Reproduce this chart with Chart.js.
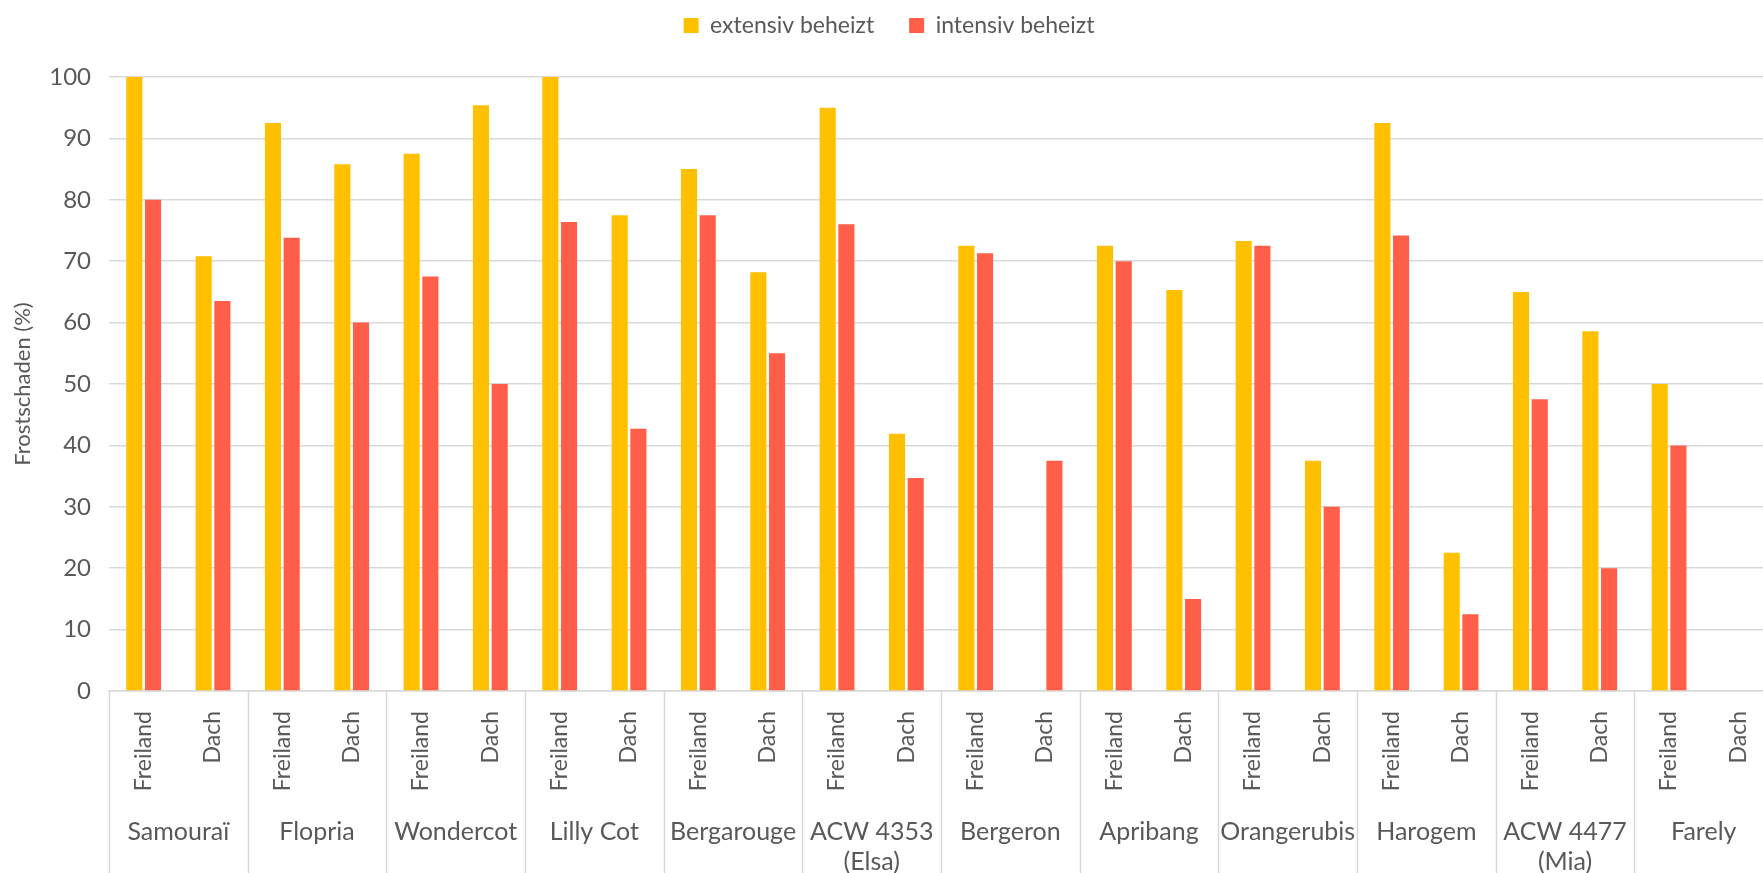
<!DOCTYPE html>
<html>
<head>
<meta charset="utf-8">
<script src="https://cdn.jsdelivr.net/npm/chart.js@4.4.1/dist/chart.umd.min.js"></script>
<style>
  html, body { margin: 0; padding: 0; background: #fff; }
  #wrap { width: 1763px; height: 873px; overflow: hidden; }
</style>
</head>
<body>
<!-- the plot area runs a bit past the right edge, like in the original -->
<div id="wrap"><canvas id="myChart" width="1778" height="873"></canvas></div>
<script>
// sorts (groups) and the two positions per sort
const groups = ["Samouraï", "Flopria", "Wondercot", "Lilly Cot", "Bergarouge", ["ACW 4353", "(Elsa)"],
  "Bergeron", "Apribang", "Orangerubis", "Harogem", ["ACW 4477", "(Mia)"], "Farely"];
const positions = ["Freiland", "Dach"];

// frost damage in %, order: Samouraï Freiland, Samouraï Dach, Flopria Freiland, ...
const extensiv = [100, 70.8, 92.5, 85.8, 87.5, 95.4, 100, 77.5, 85, 68.2, 95, 41.9,
  72.5, null, 72.5, 65.3, 73.3, 37.5, 92.5, 22.5, 65, 58.6, 50, null];
const intensiv = [80, 63.5, 73.8, 60, 67.5, 50, 76.4, 42.7, 77.5, 55, 76, 34.7,
  71.3, 37.5, 70, 15, 72.5, 30, 74.2, 12.5, 47.5, 20, 40, null];

const yTicks = { min: 0, max: 100, step: 10 };

const textColor = "#595959";
const gridColor = "#D9D9D9";
const fontFamily = "Lato, 'Open Sans', sans-serif";

// one label per bar slot: Freiland, Dach, Freiland, Dach ...
let labels = [];
groups.forEach(() => positions.forEach((p) => labels.push(p)));

// draws the separators between the sorts below the axis
const groupLines = {
  id: "groupLines",
  afterDraw(chart) {
    const ctx = chart.ctx;
    const x = chart.scales.x;
    const half = (x.getPixelForValue(1) - x.getPixelForValue(0)) / 2;
    ctx.save();
    ctx.strokeStyle = gridColor;
    ctx.lineWidth = 1.5;
    for (let i = 0; i <= groups.length; i++) {
      let px = x.getPixelForValue(i * 2) - half;
      px = Math.round(px) + 0.5;
      ctx.beginPath();
      ctx.moveTo(px, chart.chartArea.bottom);
      ctx.lineTo(px, chart.height);
      ctx.stroke();
    }
    ctx.restore();
  },
};

// some more room below the legend
const legendRoom = {
  id: "legendRoom",
  beforeInit(chart) {
    const fit = chart.legend.fit;
    chart.legend.fit = function () {
      fit.call(this);
      this.height += 30;
    };
  },
};

let myChart = new Chart(document.getElementById("myChart"), {
  type: "bar",
  data: {
    labels: labels,
    datasets: [
      {
        label: "extensiv beheizt",
        data: extensiv,
        backgroundColor: "#FFC000",
        categoryPercentage: 0.54,
        barPercentage: 0.86,
      },
      {
        label: "intensiv beheizt",
        data: intensiv,
        backgroundColor: "#FF5F48",
        categoryPercentage: 0.54,
        barPercentage: 0.86,
      },
    ],
  },
  options: {
    responsive: false,
    animation: false,
    devicePixelRatio: 1,
    layout: { padding: { top: -21, left: 0, right: 0, bottom: 0 } },
    plugins: {
      legend: {
        position: "top",
        labels: {
          color: textColor,
          font: { family: fontFamily, size: 23 },
          boxWidth: 15,
          boxHeight: 15,
          padding: 35,
        },
      },
      tooltip: { enabled: false },
    },
    scales: {
      y: {
        min: yTicks.min,
        max: yTicks.max,
        ticks: {
          stepSize: yTicks.step,
          color: textColor,
          font: { family: fontFamily, size: 24 },
          padding: 18,
        },
        grid: { color: gridColor, lineWidth: 1.5, drawTicks: false },
        border: { display: false },
        title: {
          display: true,
          text: "Frostschaden (%)",
          color: textColor,
          font: { family: fontFamily, size: 22 },
          padding: 10,
        },
        afterFit(scale) {
          scale.width = 109;
        },
      },
      x: {
        ticks: {
          color: textColor,
          font: { family: fontFamily, size: 23 },
          minRotation: 90,
          maxRotation: 90,
          padding: 12,
          autoSkip: false,
        },
        grid: { display: false },
        border: { display: true, color: gridColor, width: 1.5 },
        afterFit(scale) {
          scale.height = 102;
        },
      },
      x2: {
        type: "category",
        position: "bottom",
        labels: groups,
        offset: true,
        ticks: {
          color: textColor,
          font: { family: fontFamily, size: 25 },
          padding: 16,
          maxRotation: 0,
          autoSkip: false,
        },
        grid: { display: false },
        border: { display: false },
        afterFit(scale) {
          scale.height = 80;
        },
      },
    },
  },
  plugins: [groupLines, legendRoom],
});
</script>
</body>
</html>
